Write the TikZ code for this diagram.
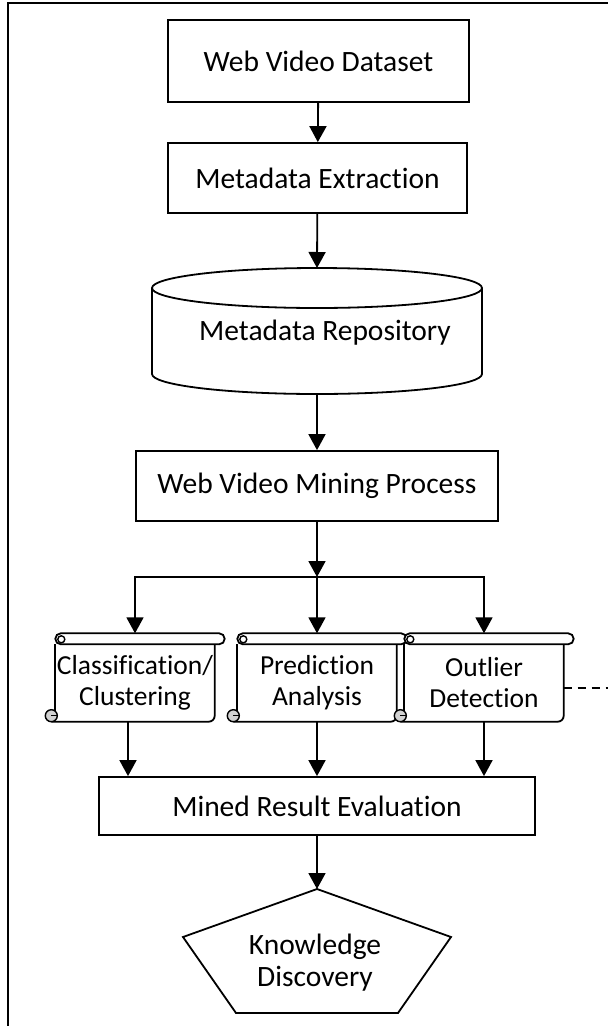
\documentclass[tikz,border=0pt]{standalone}
\usepackage{fontspec}
\setmainfont[Ligatures=NoCommon]{Carlito}
\usetikzlibrary{arrows.meta,calc}

\tikzset{
  box/.style={draw, line width=1.8pt, inner sep=2pt, font=\fontsize{29.5}{34}\selectfont},
  body/.style={inner sep=0pt, align=center, minimum width=159pt, minimum height=77pt, font=\fontsize{27.5}{31}\selectfont},
  flow/.style={line width=1.8pt, -{Triangle[width=17pt,length=16pt]}},
}

\newcommand\scrollpart[1]{%
  \draw[line width=1.8pt, fill=white, rounded corners=5.5pt] (#1.north west) rectangle ([xshift=10pt,yshift=11pt]#1.north east);
  \draw[line width=1.4pt] ([xshift=6pt,yshift=5pt]#1.north west) circle (3.5pt);
  \draw[line width=1.8pt] (#1.north west) -- ([yshift=7pt]#1.south west);
  \draw[line width=1.8pt, rounded corners=6pt] ([xshift=-4pt]#1.south west) -- (#1.south east) -- (#1.north east);
  \draw[line width=1.4pt, fill=gray!35] ([xshift=-4pt,yshift=6pt]#1.south west) circle (6pt);
  \draw[line width=1.4pt] ([xshift=-4pt,yshift=6pt]#1.south west) -- ([xshift=2pt,yshift=6pt]#1.south west);
}

\begin{document}
\begin{tikzpicture}[x=1pt,y=-1pt]
    \useasboundingbox (0,0) rectangle (608,1026);
    \draw[line width=1.8pt] (8,1026) -- (8,3) -- (608,3);

    \node[box, minimum width=301pt, minimum height=82pt] (dataset) at (318.5,61) {Web Video Dataset};
    \node[box, minimum width=299pt, minimum height=70pt] (extract) at (317.5,178) {Metadata Extraction};

    \draw[line width=1.8pt] (152,288) -- (152,374) arc[start angle=180, end angle=360, x radius=165pt, y radius=20pt] -- (482,288);
    \draw[line width=1.8pt] (317,288) ellipse [x radius=165pt, y radius=20pt];
    \coordinate (repotop) at (317,268);
    \coordinate (repobot) at (317,394);
    \node[font=\fontsize{29.5}{34}\selectfont] (repo) at (325,333) {Metadata Repository};

    \node[box, minimum width=362pt, minimum height=70pt] (mining) at (317,486) {Web Video Mining Process};
    \coordinate (split) at (317,577);

    \node[body] (cls) at (135,683) {Classification/\\Clustering};
    \node[body] (pred) at (317,683) {Prediction\\Analysis};
    \node[body] (out) at (484,683) {Outlier\\Detection};
    \scrollpart{cls}
    \scrollpart{pred}
    \scrollpart{out}

    \node[box, minimum width=436pt, minimum height=58pt] (eval) at (317,806) {Mined Result Evaluation};

    \draw[line width=1.8pt] (317,889) coordinate (kdtop) -- (451,937) -- (398,1013) -- (236,1013) -- (183,937) -- cycle;
    \node[align=center, font=\fontsize{29.5}{32}\selectfont] (know) at (315,963) {Knowledge\\Discovery};

    \draw[flow] (dataset) -- (extract);
    \draw[flow] (extract) -- (repotop);
    \draw[flow] (repobot) -- (mining);
    \draw[flow] (mining) -- (split);
    \draw[flow, shorten >=11pt] (split) -| (cls.north);
    \draw[flow, shorten >=11pt] (split) -- (pred.north);
    \draw[flow, shorten >=11pt] (split) -| (out.north);

    \coordinate (clsout) at ([xshift=-7pt]cls.south);
    \draw[flow] (clsout) -- (clsout |- eval.north);
    \draw[flow] (pred.south) -- (pred.south |- eval.north);
    \draw[flow] (out.south) -- (out.south |- eval.north);
    \draw[flow] (eval) -- (kdtop);

    \coordinate (more) at (608,688);
    \draw[line width=1.8pt, dash pattern=on 8pt off 6pt] (out.east |- more) -- (more);
    % \node at (580,700) {...};
\end{tikzpicture}
\end{document}
